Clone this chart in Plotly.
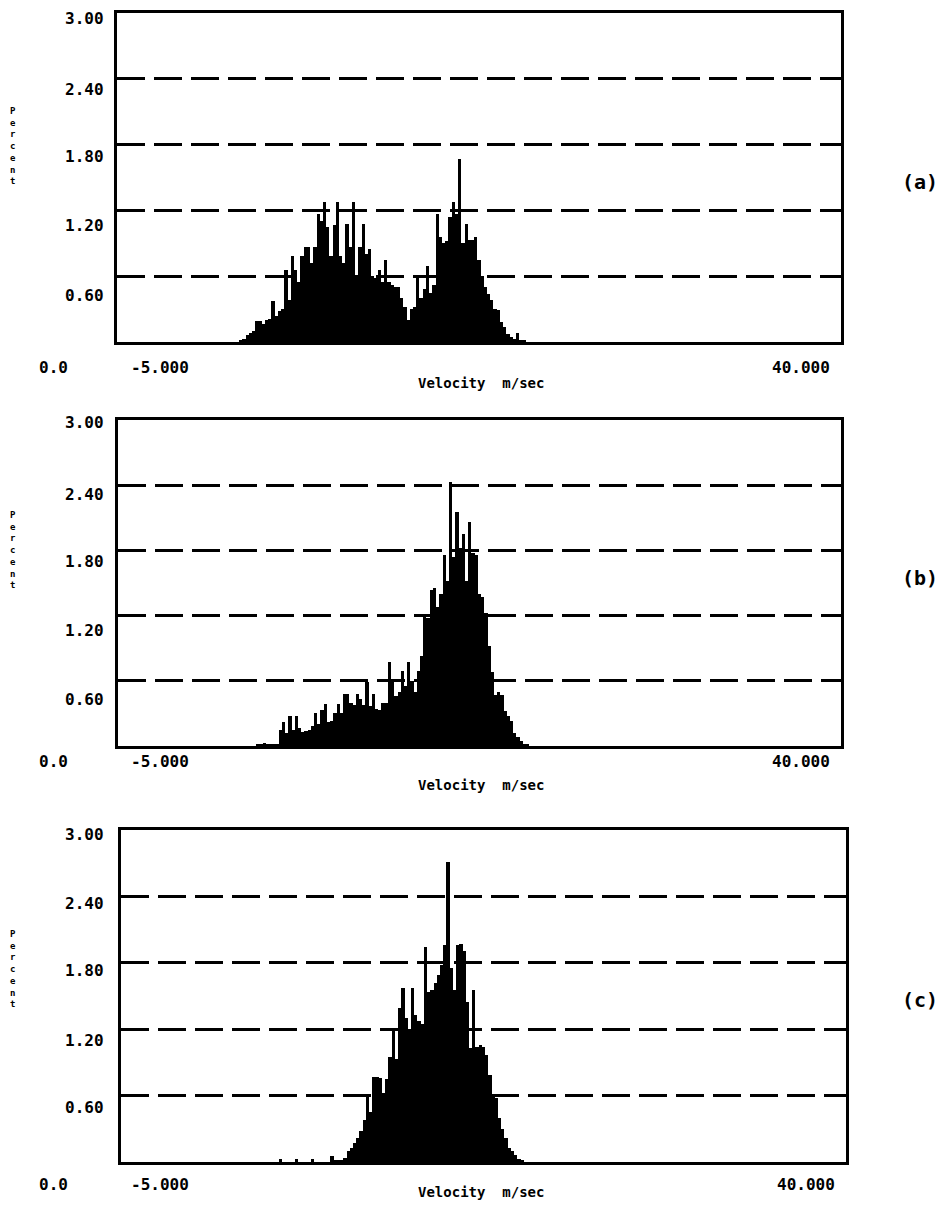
import numpy as np
import plotly.graph_objects as go

# ---------------- data ----------------
bin_start = 2.6      # m/sec, left edge of first bin
bin_width = 0.2      # m/sec

pct_a = [0.01, 0.03, 0.06, 0.08, 0.10, 0.19, 0.19, 0.16, 0.20, 0.21,
         0.37, 0.24, 0.28, 0.30, 0.66, 0.38, 0.78, 0.66, 0.55, 0.78,
         0.87, 0.87, 0.72, 0.87, 1.17, 1.10, 1.28, 1.05, 0.78, 1.07,
         1.28, 0.78, 0.72, 1.08, 0.87, 1.28, 0.60, 0.87, 1.08, 0.80,
         0.85, 0.60, 0.58, 0.66, 0.55, 0.75, 0.55, 0.52, 0.50, 0.50,
         0.40, 0.32, 0.20, 0.30, 0.32, 0.60, 0.40, 0.48, 0.69, 0.45,
         0.52, 1.17, 0.96, 0.90, 0.92, 1.14, 1.28, 1.17, 1.67, 0.90,
         1.08, 0.93, 0.93, 0.96, 0.75, 0.60, 0.50, 0.44, 0.38, 0.30,
         0.29, 0.18, 0.14, 0.07, 0.05, 0.03, 0.08, 0.02, 0.01]

pct_b = [0.00, 0.00, 0.00, 0.00, 0.00, 0.01, 0.02, 0.03, 0.02, 0.02,
         0.01, 0.02, 0.15, 0.22, 0.12, 0.28, 0.15, 0.28, 0.17, 0.13,
         0.14, 0.15, 0.18, 0.30, 0.20, 0.33, 0.39, 0.22, 0.23, 0.30,
         0.39, 0.30, 0.48, 0.48, 0.40, 0.38, 0.48, 0.43, 0.38, 0.59,
         0.37, 0.48, 0.34, 0.33, 0.40, 0.40, 0.77, 0.62, 0.46, 0.50,
         0.69, 0.55, 0.77, 0.60, 0.50, 0.69, 0.83, 1.19, 1.18, 1.44,
         1.45, 1.28, 1.40, 1.76, 1.52, 2.43, 1.74, 2.15, 1.82, 1.95,
         1.52, 2.06, 1.78, 1.76, 1.40, 1.37, 1.22, 0.92, 0.68, 0.47,
         0.50, 0.47, 0.32, 0.28, 0.23, 0.12, 0.08, 0.05, 0.02, 0.01]

pct_c = [0.00, 0.00, 0.00, 0.00, 0.00, 0.00, 0.00, 0.00, 0.00, 0.00,
         0.00, 0.03, 0.00, 0.00, 0.00, 0.00, 0.03, 0.00, 0.00, 0.00,
         0.00, 0.03, 0.00, 0.00, 0.00, 0.00, 0.00, 0.05, 0.01, 0.01,
         0.02, 0.04, 0.10, 0.13, 0.17, 0.22, 0.28, 0.38, 0.59, 0.45,
         0.77, 0.77, 0.76, 0.62, 0.75, 0.95, 1.18, 0.93, 1.39, 1.57,
         1.30, 1.20, 1.57, 1.33, 1.27, 1.25, 1.94, 1.54, 1.55, 1.62,
         1.69, 1.78, 1.96, 2.71, 1.75, 1.55, 1.96, 1.97, 1.91, 1.45,
         1.03, 1.55, 1.04, 1.06, 1.04, 0.97, 0.79, 0.60, 0.58, 0.40,
         0.30, 0.22, 0.13, 0.10, 0.06, 0.03, 0.01]

panel_tags = ["(a)", "(b)", "(c)"]
y_tick_labels = ["3.00", "2.40", "1.80", "1.20", "0.60", "0.0"]
grid_vals = [0.6, 1.2, 1.8, 2.4]
x_min, x_max = -5.0, 40.0
y_min, y_max = 0.0, 3.0
x_label = "Velocity  m/sec"
y_label = "Percent"

# ---------------- layout geometry (page pixels) ----------------
PAGE_W, PAGE_H = 949, 1212
OFF = 8                      # default body margin of the html page
W, H = PAGE_W - 2 * OFF - 2, PAGE_H - 2 * OFF - 2

panels = [
    dict(l=117, r=841, t=13, b=342, lab=[18, 89, 157, 225, 295, 367], tag=182, xl=383, pc=146, r40=832),
    dict(l=118, r=841, t=420, b=746, lab=[423, 494, 561, 630, 699, 761], tag=578, xl=785, pc=550, r40=832),
    dict(l=121, r=846, t=830, b=1162, lab=[834, 903, 970, 1040, 1107, 1184], tag=1000, xl=1195, pc=969, r40=837),
]

def px_x(p):
    return (p - OFF) / W

def px_y(p):
    return 1 - (p - OFF) / H

FONT = "DejaVu Sans Mono"
def bold(size):
    return dict(family=FONT, size=size, color="black", weight="bold")

fig = go.Figure()
annotations = []
series = [pct_a, pct_b, pct_c]

def note(text, x, y, xanchor, size, yanchor="middle"):
    annotations.append(dict(text=text, x=px_x(x), y=px_y(y), xref="paper", yref="paper",
                            xanchor=xanchor, yanchor=yanchor, showarrow=False,
                            font=bold(size)))

for k, (vals, geo) in enumerate(zip(series, panels)):
    n = len(vals)
    centers = bin_start + bin_width * (np.arange(n) + 0.5)
    sfx = "" if k == 0 else str(k + 1)
    fig.add_trace(go.Bar(
        x=centers, y=vals, width=bin_width,
        marker=dict(color="black", line=dict(width=0)),
        xaxis="x" + sfx, yaxis="y" + sfx, showlegend=False,
    ))
    xa = dict(domain=[px_x(geo["l"]), px_x(geo["r"])], range=[x_min, x_max],
              showgrid=False, zeroline=False, showticklabels=False, ticks="",
              showline=True, mirror=True, linewidth=3, linecolor="black",
              anchor="y" + sfx, fixedrange=True)
    ya = dict(domain=[px_y(geo["b"]), px_y(geo["t"])], range=[y_min, y_max],
              tickvals=grid_vals, showticklabels=False, ticks="",
              showgrid=True, gridcolor="black", gridwidth=2.5, griddash="28px,9px",
              zeroline=False, showline=True, mirror=True, linewidth=3,
              linecolor="black", anchor="x" + sfx, fixedrange=True)
    fig.update_layout(**{"xaxis" + sfx: xa, "yaxis" + sfx: ya})

    # y tick labels
    for j, txt in enumerate(y_tick_labels[:-1]):
        note(txt, 106, geo["lab"][j], "right", 16)
    note(y_tick_labels[-1], 37, geo["lab"][-1], "left", 16)
    # x corner labels
    note(f"{x_min:.3f}", 129, geo["lab"][-1], "left", 16)
    note(f"{x_max:.3f}", geo["r40"], geo["lab"][-1], "right", 16)
    # x axis title
    if k == 2:
        note(x_label, 481, PAGE_H - OFF - 2, "center", 14, yanchor="bottom")
    else:
        note(x_label, 481, geo["xl"], "center", 14)
    # y axis title (stacked letters)
    note("<br>".join(y_label), 13, geo["pc"], "center", 9)
    # panel tag
    note(panel_tags[k], 920, geo["tag"], "center", 20)

fig.update_layout(
    width=W, height=H,
    margin=dict(l=0, r=0, t=0, b=0),
    paper_bgcolor="white", plot_bgcolor="white",
    bargap=0, barmode="overlay",
    annotations=annotations,
)

fig.write_html("out.html")
